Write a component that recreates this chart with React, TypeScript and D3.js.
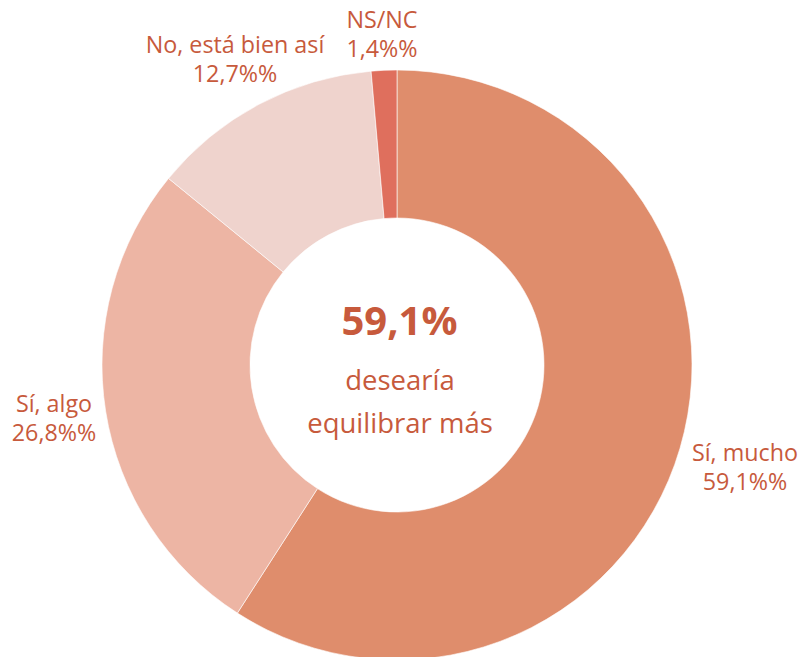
import React from "react";
import * as d3 from "d3";

const categories = ["Sí, mucho", "Sí, algo", "No, está bien así", "NS/NC"];
const values = [59.1, 26.8, 12.7, 1.4];
const valueLabels = ["59,1%%", "26,8%%", "12,7%%", "1,4%%"];
const colors = ["#DF8D6C", "#EDB5A4", "#EFD3CD", "#DF6F5D"];
const centerValue = "59,1%";
const centerLines = ["desearía", "equilibrar más"];

const W = 798;
const H = 657;
const cx = 397;
const cy = 365;
const R = 295;
const r = 147;
const TEXT = "#C75A3C";
const FONT = "'Open Sans', sans-serif";

// label anchor positions (x center, first baseline)
const labelPos: [number, number][] = [
  [745, 461],
  [54, 412],
  [235, 53],
  [382, 28],
];

export default function App() {
  const data = categories.map((c, i) => ({ c, v: values[i], i }));
  const pie = d3.pie<any>().value((d) => d.v).sort(null);
  const arcs = pie(data);
  const arc = d3.arc<any>().innerRadius(r).outerRadius(R);
  return (
    <svg
      width={W}
      height={H}
      style={{ position: "absolute", left: 0, top: 0 }}
      fontFamily={FONT}
    >
      <g transform={`translate(${cx},${cy})`}>
        {arcs.map((a, i) => (
          <path
            key={i}
            d={arc(a) as string}
            fill={colors[i]}
            stroke="#fff"
            strokeWidth={0.6}
          />
        ))}
        <text
          x={2.5}
          y={335 - cy}
          textAnchor="middle"
          fontSize={40}
          fontWeight={700}
          fill={TEXT}
        >
          {centerValue}
        </text>
        {centerLines.map((t, i) => (
          <text
            key={i}
            x={3}
            y={390 - cy + i * 43}
            textAnchor="middle"
            fontSize={27.5}
            fill={TEXT}
          >
            {t}
          </text>
        ))}
      </g>
      {categories.map((c, i) => (
        <text
          key={i}
          x={labelPos[i][0]}
          y={labelPos[i][1]}
          textAnchor="middle"
          fontSize={23.3}
          fill={TEXT}
        >
          <tspan x={labelPos[i][0]}>{c}</tspan>
          <tspan x={labelPos[i][0]} dy={28.5}>
            {valueLabels[i]}
          </tspan>
        </text>
      ))}
    </svg>
  );
}
